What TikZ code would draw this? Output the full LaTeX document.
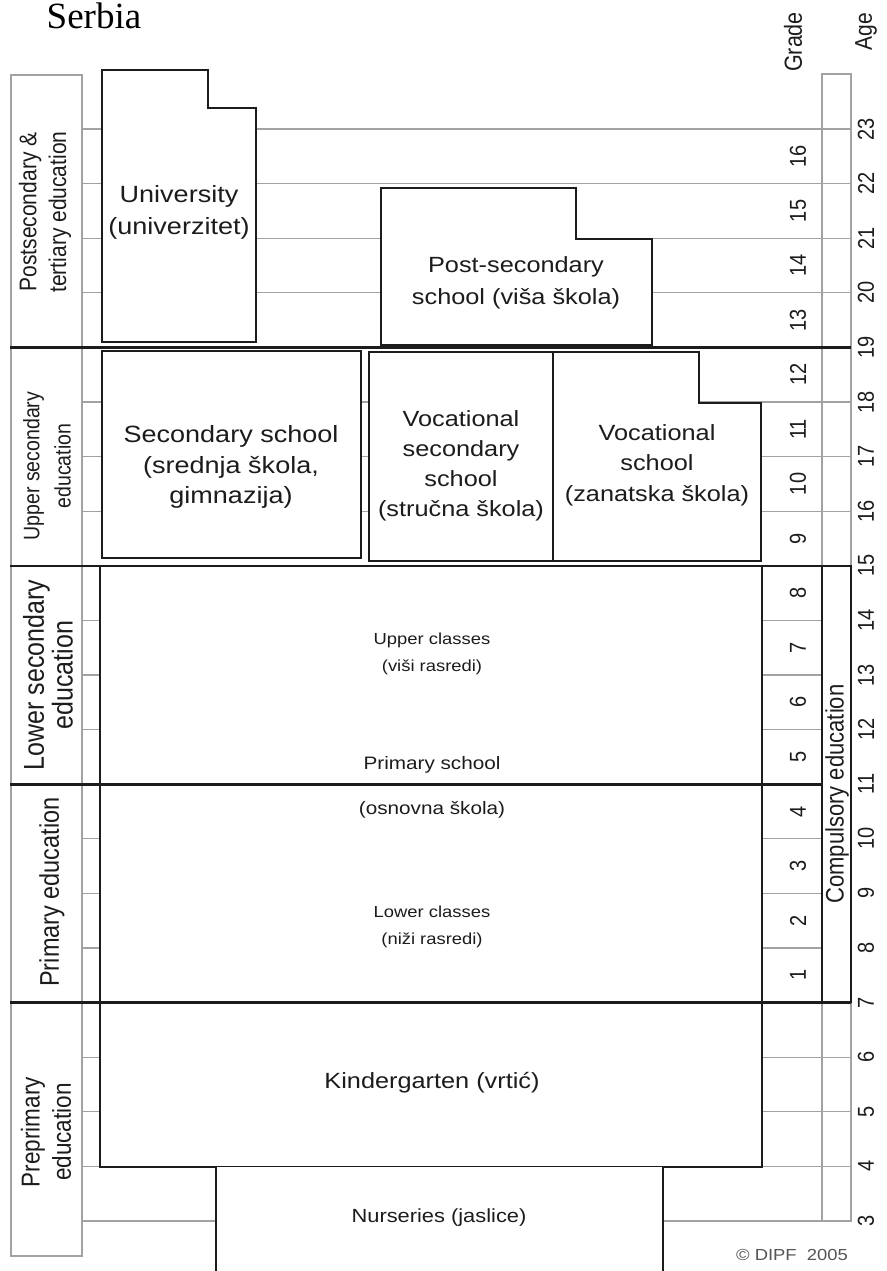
\documentclass[tikz,border=0pt]{standalone}
\usepackage{fontspec}
\newfontfamily\chartsans{Liberation Sans}
\newfontfamily\chartserif{Liberation Serif}
\newcommand\chartfont[2]{\chartsans\fontsize{#1}{#2}\selectfont}
\definecolor{ink}{HTML}{1C1C1C}
\definecolor{gridgray}{HTML}{A2A2A2}
\definecolor{copygray}{HTML}{555555}
\begin{document}
\begin{tikzpicture}[x=1pt,y=-1pt,
  grid/.style={draw=gridgray, line width=1.1pt},
  heavy/.style={draw=ink, line width=2.6pt, fill=white},
  medium/.style={draw=ink, line width=1.5pt, fill=white},
  htext/.style={text=ink, align=center, inner sep=0pt, xscale=1.15},
  vtext/.style={text=ink, align=center, inner sep=0pt, rotate=90, yscale=1.15}]
\useasboundingbox (0,0) rectangle (886,1271);
\fill[white] (0,0) rectangle (886,1271);

% one grey rule per year of age, with the age printed beside it
\foreach \a in {3,...,23}{
  \pgfmathsetmacro\yy{1221-(\a-3)*54.6}
  \draw[grid] (82,\yy) -- (851,\yy);
  \node[vtext, font=\chartfont{20}{22}] (age\a) at (866,\yy) {\a};
}
% grade numbers sit between the age rules
\foreach \g in {1,...,16}{
  \pgfmathsetmacro\yy{1221-(\g+3.5)*54.6}
  \node[vtext, font=\chartfont{20}{22}] (grade\g) at (798,\yy) {\g};
}

% level column on the left and age column on the right
\draw[grid] (11,75) rectangle (82,1256);
\draw[grid] (822,74) rectangle (851,1221);

% tertiary level
\draw[heavy] (102,70) -- (208,70) -- (208,108) -- (256,108) -- (256,342) -- (102,342) -- cycle;
\draw[heavy] (381,188) -- (576,188) -- (576,239) -- (652,239) -- (652,345) -- (381,345) -- cycle;

% upper secondary level
\draw[heavy] (102,351) rectangle (361,558);
\draw[medium] (369,352) rectangle (553,561);
\draw[medium] (553,352) -- (699,352) -- (699,403) -- (761,403) -- (761,561) -- (553,561) -- cycle;

% primary school and kindergarten
\draw[heavy] (100,566) rectangle (762,1002);
\draw[heavy] (100,1002) rectangle (762,1167);

% nurseries: open at the bottom
\fill[white] (216,1167) rectangle (663,1271);
\draw[draw=ink, line width=2.6pt] (216,1167) -- (216,1271);
\draw[draw=ink, line width=2.6pt] (663,1167) -- (663,1271);

% compulsory education bar
\draw[heavy] (822,566) rectangle (851,1002);

% level boundaries
\draw[draw=ink, line width=2.6pt] (10,347.4) -- (851,347.4);
\draw[draw=ink, line width=2.6pt] (10,565.8) -- (851,565.8);
\draw[draw=ink, line width=2.6pt] (10,784.2) -- (822,784.2);
\draw[draw=ink, line width=2.6pt] (10,1002.6) -- (851,1002.6);

% title and column heads
\node[font=\chartserif\fontsize{37}{40}\selectfont, text=black, anchor=base, inner sep=0pt] (title) at (94,28.7) {Serbia};
\node[vtext, font=\chartfont{21.5}{24}] (gradehead) at (793,42) {Grade};
\node[vtext, font=\chartfont{21}{24}] (agehead) at (866,32) {Age};

% level labels
\node[vtext, font=\chartfont{21}{26}] (labpost) at (45,212) {Postsecondary \&\\tertiary education};
\node[vtext, font=\chartfont{19.5}{27}] (labupper) at (47,466) {Upper secondary\\education};
\node[vtext, font=\chartfont{25}{25}] (lablower) at (48,675) {Lower secondary\\education};
\node[vtext, font=\chartfont{23.5}{26}] (labprimary) at (52,892) {Primary education};
\node[vtext, font=\chartfont{22.5}{27}] (labpre) at (46,1132) {Preprimary\\education};
\node[vtext, font=\chartfont{22}{24}] (compulsory) at (837,794) {Compulsory education};

% institutions
\node[htext, font=\chartfont{23.5}{32}] (univ) at (179,212) {University\\(univerzitet)};
\node[htext, font=\chartfont{22}{32}] (postsec) at (516,283) {Post-secondary\\school (viša škola)};
\node[htext, font=\chartfont{23.5}{30.5}] (secschool) at (231,467) {Secondary school\\(srednja škola,\\gimnazija)};
\node[htext, font=\chartfont{22}{30}] (vocsec) at (461,466) {Vocational\\secondary\\school\\(stručna škola)};
\node[htext, font=\chartfont{22}{30.5}] (voc) at (657,465) {Vocational\\school\\(zanatska škola)};
\node[htext, font=\chartfont{16}{27}] (upperclasses) at (432,654) {Upper classes\\(viši rasredi)};
\node[htext, font=\chartfont{18}{25}] (primary) at (432,765) {Primary school};
\node[htext, font=\chartfont{18}{25}] (osnovna) at (432,810) {(osnovna škola)};
\node[htext, font=\chartfont{16}{27}] (lowerclasses) at (432,927) {Lower classes\\(niži rasredi)};
\node[htext, font=\chartfont{22}{25}] (kinder) at (432,1083) {Kindergarten (vrtić)};
\node[htext, font=\chartfont{19}{25}] (nursery) at (439,1218) {Nurseries (jaslice)};
\node[htext, font=\chartfont{16}{18}, text=copygray] (copyright) at (792,1255) {©\ DIPF\ \ 2005};
\end{tikzpicture}
\end{document}
